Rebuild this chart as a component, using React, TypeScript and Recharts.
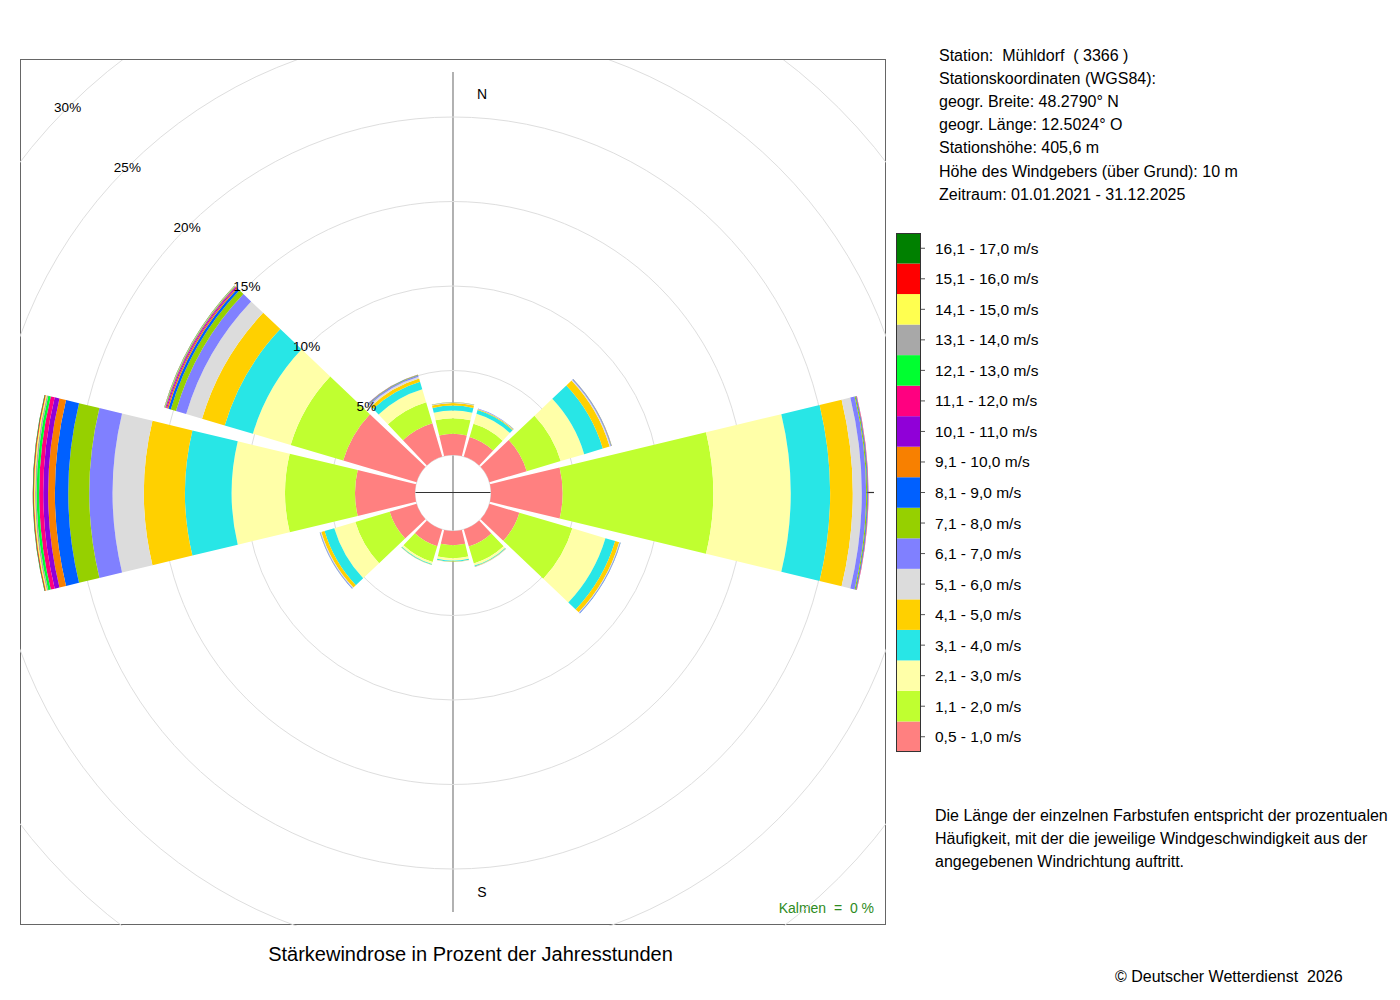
import React from 'react';
import { RadialBarChart, RadialBar, PolarAngleAxis, PolarRadiusAxis, PolarGrid } from 'recharts';

// wind directions, clockwise from north (30° sectors)
const directions = ['N', 'NNO', 'ONO', 'O', 'OSO', 'SSO', 'S', 'SSW', 'WSW', 'W', 'WNW', 'NNW'];

// percent of yearly hours per speed class, one value per direction
const v05_10 = [1.25, 1.21, 2.3, 4.24, 1.85, 1.05, 0.84, 1.03, 1.66, 3.55, 4.53, 2.05];
const v11_20 = [0.93, 0.81, 2.1, 8.91, 3.27, 1.05, 0.77, 0.98, 2.12, 4.14, 3.24, 1.3];
const v21_30 = [0.45, 0.62, 1.45, 4.58, 2.04, 0.13, 0.15, 0.13, 1.3, 3.16, 2.33, 0.8];
const v31_40 = [0.3, 0.23, 1.15, 2.33, 0.6, 0.05, 0.05, 0.04, 0.6, 2.76, 1.74, 0.47];
const v41_50 = [0.14, 0.05, 0.42, 1.34, 0.25, 0.02, 0.02, 0.01, 0.2, 2.43, 1.4, 0.19];
const v51_60 = [0.03, 0.02, 0.06, 0.53, 0.04, 0.01, 0.01, 0, 0.05, 1.85, 0.98, 0.12];
const v61_70 = [0.02, 0.02, 0.04, 0.26, 0.03, 0.01, 0, 0.01, 0.03, 1.38, 0.63, 0.07];
const v71_80 = [0.01, 0.01, 0.02, 0.06, 0.01, 0, 0, 0, 0.01, 1.24, 0.32, 0.03];
const v81_90 = [0.01, 0, 0.01, 0.04, 0.01, 0, 0, 0, 0.01, 0.79, 0.15, 0.02];
const v91_100 = [0, 0, 0.01, 0.02, 0, 0, 0, 0, 0, 0.4, 0.08, 0.01];
const v101_110 = [0, 0, 0, 0.01, 0, 0, 0, 0, 0, 0.29, 0.05, 0.01];
const v111_120 = [0, 0, 0, 0.01, 0, 0, 0, 0, 0, 0.24, 0.05, 0];
const v121_130 = [0, 0, 0, 0, 0, 0, 0, 0, 0, 0.15, 0.03, 0];
const v131_140 = [0, 0, 0, 0, 0, 0, 0, 0, 0, 0.09, 0.02, 0];
const v141_150 = [0, 0, 0, 0, 0, 0, 0, 0, 0, 0.07, 0.01, 0];
const v151_160 = [0, 0, 0, 0, 0, 0, 0, 0, 0, 0.04, 0.01, 0];
const v161_170 = [0, 0, 0, 0, 0, 0, 0, 0, 0, 0.03, 0.01, 0];

const speedSeries = [
  v05_10, v11_20, v21_30, v31_40, v41_50, v51_60, v61_70, v71_80, v81_90,
  v91_100, v101_110, v111_120, v121_130, v131_140, v141_150, v151_160, v161_170,
];

const speedLabels = [
  '0,5 - 1,0 m/s', '1,1 - 2,0 m/s', '2,1 - 3,0 m/s', '3,1 - 4,0 m/s', '4,1 - 5,0 m/s',
  '5,1 - 6,0 m/s', '6,1 - 7,0 m/s', '7,1 - 8,0 m/s', '8,1 - 9,0 m/s', '9,1 - 10,0 m/s',
  '10,1 - 11,0 m/s', '11,1 - 12,0 m/s', '12,1 - 13,0 m/s', '13,1 - 14,0 m/s',
  '14,1 - 15,0 m/s', '15,1 - 16,0 m/s', '16,1 - 17,0 m/s',
];

const speedColors = [
  '#ff8080', '#c0ff30', '#ffffa8', '#28e6e6', '#ffd000', '#dcdcdc', '#8080ff', '#96d000',
  '#0060ff', '#f88000', '#9000d8', '#ff0080', '#00ff30', '#a8a8a8', '#ffff50', '#ff0000',
  '#008000',
];

const rings = [0, 5, 10, 15, 20, 25, 30];

const stationInfo = [
  'Station:  Mühldorf  ( 3366 )',
  'Stationskoordinaten (WGS84):',
  'geogr. Breite: 48.2790° N',
  'geogr. Länge: 12.5024° O',
  'Stationshöhe: 405,6 m',
  'Höhe des Windgebers (über Grund): 10 m',
  'Zeitraum: 01.01.2021 - 31.12.2025',
];

const noteLines = [
  'Die Länge der einzelnen Farbstufen entspricht der prozentualen',
  'Häufigkeit, mit der die jeweilige Windgeschwindigkeit aus der',
  'angegebenen Windrichtung auftritt.',
];

const data = directions.map((dir, i) => {
  const row: any = { dir };
  speedSeries.forEach((s, k) => {
    row['c' + k] = s[i];
  });
  return row;
});

const FONT = '"Liberation Sans", Arial, Helvetica, sans-serif';

const RingTick = (props: any) => {
  const { x, y, payload } = props;
  if (!payload || payload.value === 0) return <g />;
  return (
    <text x={x} y={y} textAnchor="middle" dominantBaseline="central" fontSize={13.5} fill="#000" fontFamily={FONT}>
      {payload.value}%
    </text>
  );
};

const LEG_TOP = 233;
const LEG_H = 30.53;

export default function App() {
  const n = speedLabels.length;
  return (
    <div style={{ position: 'absolute', left: 0, top: 0, width: 1400, height: 1000, background: '#fff', fontFamily: FONT }}>
      <svg width={1400} height={1000} style={{ position: 'absolute', left: 0, top: 0 }}>
        <rect x={20.5} y={59.5} width={865} height={865} fill="none" stroke="#666" strokeWidth={1} />
        <line x1={453} y1={72} x2={453} y2={912} stroke="#888" strokeWidth={1.3} />
        <line x1={415} y1={492.5} x2={491} y2={492.5} stroke="#333" strokeWidth={1.2} />
        <line x1={862} y1={492.5} x2={874} y2={492.5} stroke="#333" strokeWidth={1.2} />
        <text x={482} y={94} fontSize={14} dominantBaseline="central" textAnchor="middle">N</text>
        <text x={482} y={892} fontSize={14} dominantBaseline="central" textAnchor="middle">S</text>
        <text x={874} y={908} fontSize={14} fill="#2e8b22" textAnchor="end" dominantBaseline="central" style={{ whiteSpace: 'pre' }}>
          {'Kalmen  =  0 %'}
        </text>
        <text x={470.5} y={954} fontSize={20} textAnchor="middle" dominantBaseline="central">
          Stärkewindrose in Prozent der Jahresstunden
        </text>
        {stationInfo.map((t, i) => (
          <text key={t} x={939} y={55 + i * 23.2} fontSize={16} dominantBaseline="central" style={{ whiteSpace: 'pre' }}>
            {t}
          </text>
        ))}
        {speedLabels.map((lab, k) => {
          const row = n - 1 - k;
          const y = LEG_TOP + row * LEG_H;
          return (
            <g key={lab}>
              <rect x={896} y={y} width={24} height={LEG_H} fill={speedColors[k]} />
              <line x1={920} y1={y + LEG_H / 2} x2={925} y2={y + LEG_H / 2} stroke="#555" />
              <text x={935} y={y + LEG_H / 2} fontSize={15.5} dominantBaseline="central">{lab}</text>
            </g>
          );
        })}
        <rect x={896.5} y={LEG_TOP + 0.5} width={24} height={LEG_H * n - 1} fill="none" stroke="#333" />
        {noteLines.map((t, i) => (
          <text key={t} x={935} y={815 + i * 23} fontSize={16} dominantBaseline="central">{t}</text>
        ))}
        <text x={1115} y={976} fontSize={16} dominantBaseline="central" style={{ whiteSpace: 'pre' }}>
          {'© Deutscher Wetterdienst  2026'}
        </text>
      </svg>
      <div style={{ position: 'absolute', left: 20, top: 59.5, width: 866, height: 866 }}>
        <RadialBarChart
          width={866}
          height={866}
          cx={433}
          cy={433}
          innerRadius={38}
          outerRadius={545}
          startAngle={75}
          endAngle={-285}
          layout="centric"
          barCategoryGap="5%"
          data={data}
          margin={{ top: 0, right: 0, bottom: 0, left: 0 }}
        >
          <PolarGrid gridType="circle" radialLines={false} stroke="#dedede" />
          <PolarAngleAxis type="category" dataKey="dir" tick={false} axisLine={false} tickLine={false} />
          {speedSeries.map((_, k) => (
            <RadialBar
              key={k}
              dataKey={'c' + k}
              stackId="rose"
              fill={speedColors[k]}
              isAnimationActive={false}
            />
          ))}
          <PolarRadiusAxis
            type="number"
            domain={[0, 30]}
            ticks={rings}
            angle={135}
            axisLine={false}
            tickLine={false}
            tick={RingTick}
          />
        </RadialBarChart>
      </div>
    </div>
  );
}
